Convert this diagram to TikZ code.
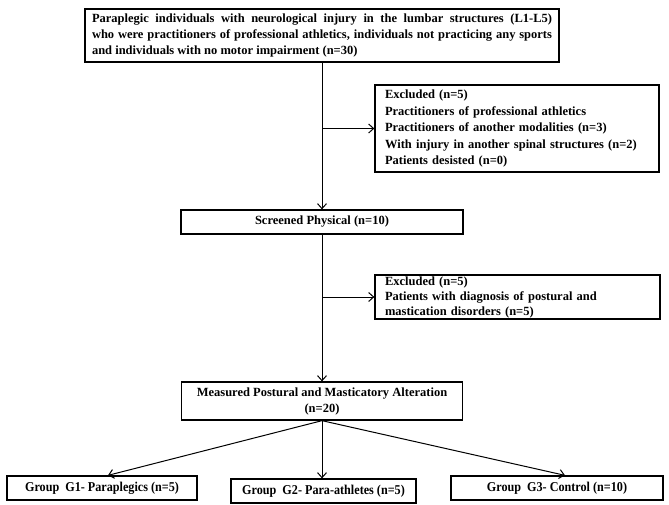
\documentclass[tikz,border=0pt]{standalone}
\usepackage{fontspec}
\setmainfont{Liberation Serif}
\newfontfamily\grpfont[FakeStretch=0.9]{Liberation Serif}
\usetikzlibrary{arrows.meta}
\begin{document}
\begin{tikzpicture}[x=1pt,y=-1pt,
  box/.style={draw, line width=1.3pt, inner sep=0pt, font=\fontsize{12.5}{15}\selectfont\bfseries},
  grp/.style={box, minimum height=24pt, font=\grpfont\fontsize{13.5}{15}\selectfont\bfseries},
  conn/.style={line width=1pt},
  arr/.style={conn, -{Straight Barb[length=5pt,width=9pt]}}]
\useasboundingbox (0,0) rectangle (669,504);
\node[box, minimum width=474pt, minimum height=53pt, text width=460pt, align=justify, font=\fontsize{12.5}{16}\selectfont\bfseries] (top) at (322,35.5)
  {Paraplegic individuals with neurological injury in the lumbar structures (L1-L5)\linebreak who were practitioners of professional athletics, individuals not practicing any sports\linebreak and individuals with no motor impairment (n=30)};
\node[box, minimum width=284pt, minimum height=87pt, text width=264pt, align=left, font=\fontsize{12.5}{16.5}\selectfont\bfseries] (ex1) at (517,128.5)
  {Excluded (n=5)\\Practitioners of professional athletics\\Practitioners of another modalities (n=3)\\With injury in another spinal structures (n=2)\\Patients desisted (n=0)};
\node[box, minimum width=282pt, minimum height=24pt] (scr) at (322,222) {Screened Physical (n=10)};
\node[box, minimum width=285pt, minimum height=44pt, text width=265pt, align=left] (ex2) at (517.5,297)
  {Excluded (n=5)\\Patients with diagnosis of postural and\\mastication disorders (n=5)};
\node[box, minimum width=281pt, minimum height=38pt, align=center, font=\fontsize{12.5}{16}\selectfont\bfseries] (mea) at (322,401)
  {Measured Postural and Masticatory Alteration\\(n=20)};
\node[grp, minimum width=190pt] (g1) at (102,488) {Group\ \ G1- Paraplegics (n=5)};
\node[grp, minimum width=185pt] (g2) at (323.5,491) {Group\ \ G2- Para-athletes (n=5)};
\node[grp, minimum width=212pt] (g3) at (557,488) {Group\ \ G3- Control (n=10)};
\draw[arr] (top.south) -- (scr.north);
\draw[arr] (top.south |- ex1.west) -- (ex1.west);
\draw[arr] (scr.south) -- (mea.north);
\draw[arr] (scr.south |- ex2.west) -- (ex2.west);
\draw[arr] (mea.south) -- ([xshift=6pt]g1.north);
\draw[arr] (mea.south) -- (mea.south |- g2.north);
\draw[arr] (mea.south) -- ([xshift=8pt]g3.north);
\end{tikzpicture}
\end{document}
